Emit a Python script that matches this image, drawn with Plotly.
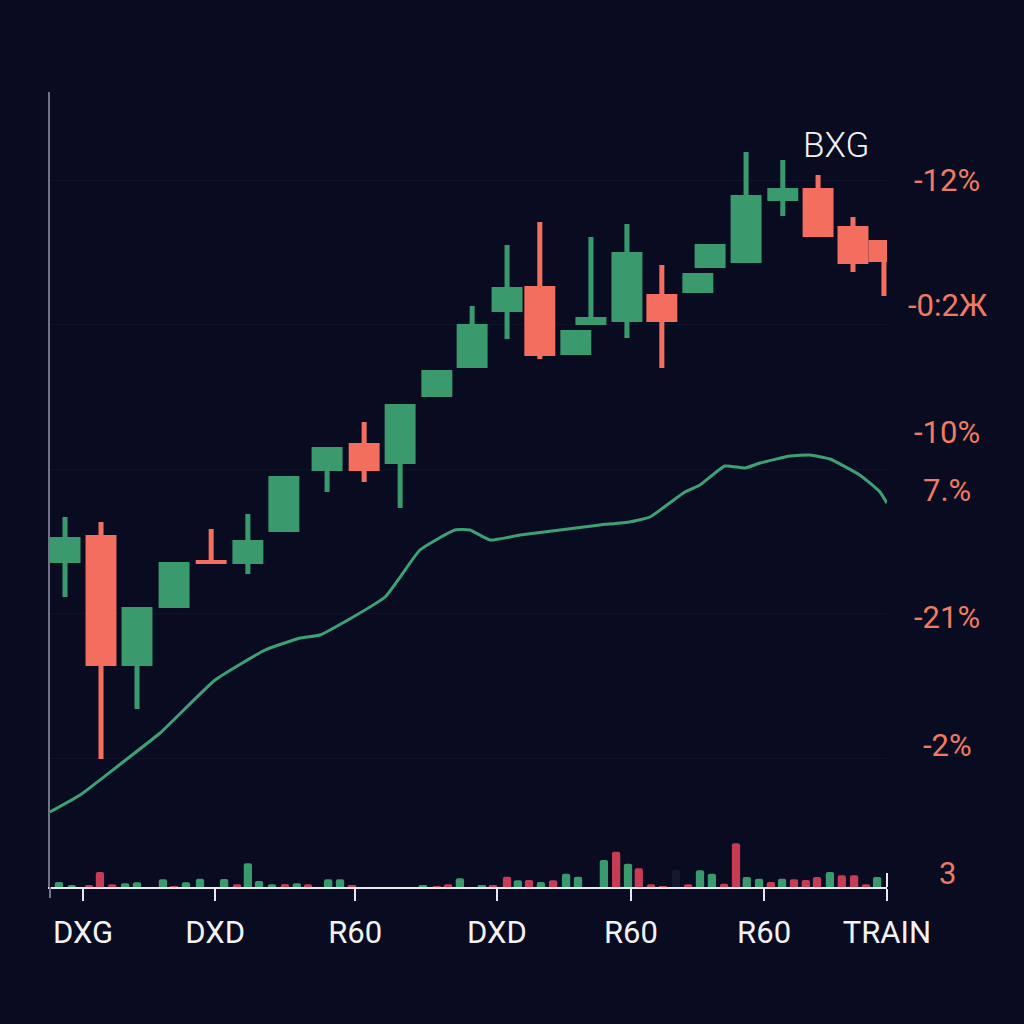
import plotly.graph_objects as go

# ---------------- data ----------------
# candle session positions (index units)
candle_t = [0.0, 1.0, 2.0, 3.03, 4.06, 5.08, 6.08, 7.28, 8.31, 9.31, 10.33, 11.31, 12.28,
            13.19, 14.19, 14.61, 15.61, 16.58, 17.58, 17.92, 18.92, 19.94, 20.92, 21.89, 22.75]
candle_open = [52.4, 55.2, 42.1, 47.9, 52.7, 52.3, 55.5, 61.6, 64.4, 62.3, 69.0, 71.9, 77.5,
               80.1, 73.2, 76.2, 76.5, 79.3, 79.4, 81.9, 82.4, 88.6, 89.9, 86.1, 84.7]
candle_close = [55.0, 42.1, 48.0, 52.5, 52.3, 54.7, 61.1, 64.0, 61.6, 68.3, 71.7, 76.3, 80.0,
                73.1, 75.7, 77.0, 83.5, 76.5, 81.4, 84.3, 89.2, 89.9, 85.0, 82.3, 82.5]
candle_high = [57.0, 56.5, 48.0, 52.5, 55.8, 57.3, 61.1, 64.0, 66.5, 68.3, 71.7, 78.1, 84.2,
               86.5, 75.7, 85.0, 86.3, 82.2, 81.4, 84.3, 93.5, 92.7, 91.2, 87.0, 84.7]
candle_low = [49.0, 32.8, 37.8, 47.9, 52.3, 51.3, 55.5, 59.5, 60.5, 57.9, 69.0, 71.9, 74.8,
              72.8, 73.2, 76.2, 74.9, 71.9, 79.4, 81.9, 82.4, 87.1, 85.0, 81.5, 79.1]

# moving-average style line
line_t = [-0.42, 0.42, 1.47, 2.64, 4.17, 5.56, 6.53, 7.08, 8.89, 9.86, 10.83, 11.25, 11.81,
          12.64, 13.75, 14.86, 15.69, 16.25, 17.22, 17.64, 18.33, 18.89, 19.31, 20.14, 20.69,
          21.25, 22.08, 22.64, 22.83]
line_v = [27.5, 29.2, 32.1, 35.4, 40.7, 43.7, 44.9, 45.2, 49.0, 53.7, 55.7, 55.7, 54.7,
          55.2, 55.7, 56.2, 56.5, 57.0, 59.5, 60.2, 62.1, 61.9, 62.4, 63.1, 63.2,
          62.8, 61.2, 59.5, 58.4]

# volume
vol_t = [-0.17, 0.19, 0.67, 0.97, 1.31, 1.67, 2.0, 2.72, 3.03, 3.36, 3.75, 4.42, 4.78, 5.08,
         5.39, 5.75, 6.11, 6.44, 6.75, 7.31, 7.64, 7.97, 9.94, 10.33, 10.64, 10.97, 11.58,
         11.89, 12.28, 12.58, 12.89, 13.22, 13.56, 13.92, 14.25, 14.97, 15.31, 15.64, 15.94,
         16.28, 16.61, 16.97, 17.31, 17.64, 17.97, 18.31, 18.64, 18.94, 19.28, 19.61, 19.92,
         20.25, 20.58, 20.89, 21.25, 21.58, 21.92, 22.25, 22.56]
vol_v = [5, 2, 2, 15, 2.7, 3.7, 4.7, 7.7, 1, 4.7, 8.3, 8, 2.7, 23.7,
         6, 2.7, 3, 3.7, 2.7, 7.7, 7.7, 1.7, 1.3, 1, 2.7, 8.7, 1.7,
         1.7, 10.3, 6.7, 7, 5, 6.7, 13.3, 10.3, 27, 35.3, 23.3, 18.7,
         2.7, 1, 17, 2.7, 16.7, 13.3, 3.3, 43.7, 10, 8.3, 5, 8.3,
         7.7, 7, 10, 15, 11.7, 11.7, 2.7, 10]
vol_dir = ['u', 'u', 'd', 'd', 'd', 'u', 'u', 'u', 'd', 'u', 'u', 'u', 'd', 'u',
           'u', 'u', 'd', 'u', 'd', 'u', 'u', 'd', 'u', 'd', 'd', 'u', 'u',
           'd', 'd', 'u', 'd', 'u', 'd', 'u', 'u', 'u', 'd', 'u', 'd',
           'd', 'd', 'n', 'd', 'u', 'u', 'd', 'd', 'u', 'u', 'd', 'u',
           'd', 'd', 'd', 'u', 'd', 'd', 'd', 'u']

x_tick_vals = [0.5, 4.17, 8.06, 12.0, 15.72, 19.42, 22.83]
x_tick_text = ['DXG', 'DXD', 'R60', 'DXD', 'R60', 'R60', 'TRAIN']

right_labels = ['-12%', '-0:2Ж', '-10%', '7.%', '-21%', '-2%', '3']
right_levels = [90.7, 78.2, 65.5, 59.7, 47.0, 34.2, 21.4]

# ---------------- style ----------------
BG = '#090b20'
GREEN = '#3a9a6e'
RED = '#f36e5f'
VRED = '#c63c55'
GHOST = '#141830'
LINE = '#3fa173'

fig = go.Figure()

up = [c >= o for o, c in zip(candle_open, candle_close)]
for is_up, col in [(True, GREEN), (False, RED)]:
    idx = [i for i in range(len(candle_t)) if up[i] == is_up]
    fig.add_trace(go.Bar(
        x=[candle_t[i] for i in idx],
        base=[candle_low[i] for i in idx],
        y=[candle_high[i] - candle_low[i] for i in idx],
        width=0.14, marker=dict(color=col, line=dict(width=0)), yaxis='y'))
    fig.add_trace(go.Bar(
        x=[candle_t[i] for i in idx],
        base=[min(candle_open[i], candle_close[i]) for i in idx],
        y=[max(abs(candle_close[i] - candle_open[i]), 0.35) for i in idx],
        width=0.86, marker=dict(color=col, line=dict(width=0)), yaxis='y'))

fig.add_trace(go.Scatter(x=line_t, y=line_v, mode='lines',
                         line=dict(color=LINE, width=3, shape='spline', smoothing=0.4),
                         yaxis='y'))

vcol = {'u': GREEN, 'd': VRED, 'n': GHOST}
fig.add_trace(go.Bar(x=vol_t, y=vol_v, width=0.23,
                     marker=dict(color=[vcol[d] for d in vol_dir], line=dict(width=0),
                                 cornerradius=2),
                     yaxis='y2'))

L, R, T, B = 50, 137, 92, 137
PW, PH = 1024 - L - R, 1024 - T - B

def px_to_paper_x(px):
    return (px - L) / PW

annotations = []
for txt, lev in zip(right_labels, right_levels):
    annotations.append(dict(text=txt, x=px_to_paper_x(947), xref='paper', xanchor='center',
                            y=lev, yref='y', yanchor='middle', showarrow=False,
                            font=dict(family='Roboto', size=31, color='#f07a63')))
annotations.append(dict(text='BXG', x=px_to_paper_x(836), xref='paper', xanchor='center',
                        y=(887 - 145) / PH, yref='paper', yanchor='middle', showarrow=False,
                        font=dict(family='Roboto', size=35, color='#f2f2f2', weight=300)))

fig.update_layout(
    width=1024, height=1024,
    margin=dict(l=L, r=R, t=T, b=B),
    paper_bgcolor=BG, plot_bgcolor=BG,
    barmode='overlay', showlegend=False,
    xaxis=dict(range=[-0.417, 22.835], showgrid=False, zeroline=False,
               showline=True, linecolor='#e8e8ee', linewidth=2,
               ticks='outside', ticklen=12, tickwidth=2, tickcolor='#e8e8ee',
               tickvals=x_tick_vals, ticktext=x_tick_text,
               tickfont=dict(family='Roboto', size=31, color='#f2f2f4'),
               ticklabelstandoff=5),
    yaxis=dict(range=[20, 99.5], showgrid=True, gridcolor='#0f1229', gridwidth=1,
               tick0=32.9, dtick=14.45, zeroline=False, showticklabels=False,
               showline=True, linecolor='#72728a', linewidth=2, ticks=''),
    yaxis2=dict(range=[0, 795], overlaying='y', visible=False),
    annotations=annotations,
    shapes=[
        dict(type='line', xref='paper', yref='paper', x0=0, x1=0, y0=0, y1=-11 / PH,
             line=dict(color='#72728a', width=2)),
        dict(type='line', xref='paper', yref='paper', x0=1, x1=1, y0=0, y1=14 / PH,
             line=dict(color='#e8e8ee', width=2)),
    ],
)

fig.write_html('out.html')
